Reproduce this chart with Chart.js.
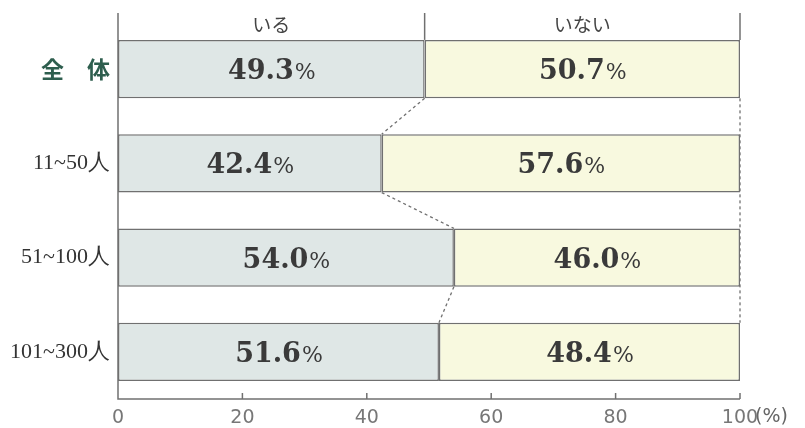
<!DOCTYPE html>
<html>
<head>
<meta charset="utf-8">
<script src="https://cdn.jsdelivr.net/npm/chart.js@4/dist/chart.umd.min.js"></script>
<style>
  html, body { margin: 0; padding: 0; background: #fff; }
  #wrap { width: 805px; height: 428px; }
</style>
</head>
<body>
<div id="wrap"><canvas id="myChart" width="805" height="428"></canvas></div>
<script>
// datos
const categories = ['全　体', '11~50人', '51~100人', '101~300人'];
const seriesNames = ['いる', 'いない'];
const iru = [49.3, 42.4, 54.0, 51.6];
const inai = [50.7, 57.6, 46.0, 48.4];
const xTicks = [0, 20, 40, 60, 80, 100];

const lineColor = '#707070';

// lineas extra, conectores punteados y etiquetas
const extras = {
  id: 'extras',
  beforeDatasetsDraw(chart) {
    const ctx = chart.ctx;
    const xs = chart.scales.x;
    const m0 = chart.getDatasetMeta(0).data;
    ctx.save();
    ctx.strokeStyle = lineColor;
    ctx.lineWidth = 1.3;
    ctx.setLineDash([3, 3]);
    // conectores entre las barras
    for (let i = 0; i < m0.length - 1; i++) {
      const a = m0[i], b = m0[i + 1];
      ctx.beginPath();
      ctx.moveTo(a.x, a.y + a.height / 2);
      ctx.lineTo(b.x, b.y - b.height / 2);
      ctx.stroke();
    }
    // borde derecho punteado
    const xr = xs.getPixelForValue(100);
    ctx.beginPath();
    ctx.moveTo(xr, m0[0].y + m0[0].height / 2);
    ctx.lineTo(xr, m0[m0.length - 1].y - m0[m0.length - 1].height / 2);
    ctx.stroke();
    ctx.restore();
  },
  afterDatasetsDraw(chart) {
    const ctx = chart.ctx;
    const xs = chart.scales.x;
    const area = chart.chartArea;
    const m0 = chart.getDatasetMeta(0).data;
    const m1 = chart.getDatasetMeta(1).data;
    const topY = 13;
    ctx.save();
    ctx.strokeStyle = lineColor;
    ctx.lineWidth = 1.5;
    ctx.setLineDash([]);
    // ejes
    ctx.beginPath();
    ctx.moveTo(area.left, topY);
    ctx.lineTo(area.left, area.bottom);
    ctx.lineTo(area.right, area.bottom);
    ctx.stroke();
    // lineas de cabecera
    const barTop = m0[0].y - m0[0].height / 2;
    [m0[0].x, xs.getPixelForValue(100)].forEach(px => {
      ctx.beginPath();
      ctx.moveTo(px, topY);
      ctx.lineTo(px, barTop);
      ctx.stroke();
    });
    // marcas hacia adentro
    xTicks.slice(1).forEach(v => {
      const px = xs.getPixelForValue(v);
      ctx.beginPath();
      ctx.moveTo(px, area.bottom - 6);
      ctx.lineTo(px, area.bottom);
      ctx.stroke();
    });
    // cabeceras いる / いない
    ctx.fillStyle = '#444';
    ctx.font = '19px "Noto Sans CJK JP"';
    ctx.textAlign = 'center';
    ctx.textBaseline = 'middle';
    ctx.fillText(seriesNames[0], (m0[0].x + m0[0].base) / 2, 25);
    ctx.fillText(seriesNames[1], (m1[0].x + m1[0].base) / 2, 25);
    // (%)
    ctx.fillStyle = '#666';
    ctx.font = '19px "DejaVu Sans"';
    ctx.textAlign = 'left';
    ctx.fillText('(%)', xs.getPixelForValue(100) + 15, 417);
    // valores
    [[m0, iru], [m1, inai]].forEach(([meta, vals]) => {
      meta.forEach((bar, i) => {
        const num = vals[i].toFixed(1);
        const cx = (bar.x + bar.base) / 2;
        ctx.font = 'bold 27px "DejaVu Serif"';
        const w1 = ctx.measureText(num).width;
        ctx.font = '22px "DejaVu Serif"';
        const w2 = ctx.measureText('%').width;
        const start = cx - (w1 + w2) / 2;
        ctx.fillStyle = '#3a3a3a';
        ctx.textAlign = 'left';
        ctx.textBaseline = 'alphabetic';
        ctx.font = 'bold 27px "DejaVu Serif"';
        ctx.fillText(num, start, bar.y + 10);
        ctx.font = '22px "DejaVu Serif"';
        ctx.fillText('%', start + w1 + 1, bar.y + 10);
      });
    });
    ctx.restore();
  }
};

const config = {
  type: 'bar',
  data: {
    labels: categories,
    datasets: [{
      label: seriesNames[0],
      data: iru,
      backgroundColor: '#dfe7e6',
      borderColor: lineColor,
      borderWidth: 1.5,
      borderSkipped: false
    }, {
      label: seriesNames[1],
      data: inai,
      backgroundColor: '#f8f9df',
      borderColor: lineColor,
      borderWidth: 1.5,
      borderSkipped: false
    }]
  },
  options: {
    indexAxis: 'y',
    responsive: false,
    animation: false,
    layout: { padding: { top: 22, right: 65, left: 0, bottom: 0 } },
    datasets: { bar: { barPercentage: 0.62, categoryPercentage: 1 } },
    plugins: { legend: { display: false }, tooltip: { enabled: false } },
    scales: {
      x: {
        stacked: true,
        min: 0,
        max: 100,
        afterBuildTicks: s => { s.ticks = xTicks.map(v => ({ value: v })); },
        afterFit: s => { s.height = 29; },
        grid: { display: false, drawTicks: false },
        border: { display: false },
        ticks: {
          padding: 8,
          color: '#777',
          font: { family: 'DejaVu Sans', size: 19 }
        }
      },
      y: {
        stacked: true,
        afterFit: s => { s.width = 118; },
        grid: { display: false, drawTicks: false },
        border: { display: false },
        ticks: {
          padding: 8,
          color: c => c.index === 0 ? '#2e5e4e' : '#333',
          font: c => c.index === 0
            ? { family: 'Noto Sans CJK JP', size: 23, weight: 'bold' }
            : { family: 'Liberation Serif', size: 22 }
        }
      }
    }
  },
  plugins: [extras]
};

const myChart = new Chart(document.getElementById('myChart').getContext('2d'), config);
</script>
</body>
</html>
